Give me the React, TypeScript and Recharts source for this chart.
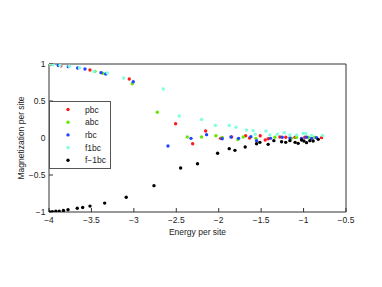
import React from 'react';
import { ScatterChart, Scatter, XAxis, YAxis, Legend, Label } from 'recharts';

const xTicks = [-4, -3.5, -3, -2.5, -2, -1.5, -1, -0.5];
const yTicks = [-1, -0.5, 0, 0.5, 1];
const seriesNames = ['pbc', 'abc', 'rbc', 'f1bc', 'f\u22121bc'];
const seriesColors = ['#ff1a1a', '#66e600', '#2145ff', '#7dffe0', '#000000'];

const pbc = [
  [-3.98, 0.995], [-3.86, 0.975], [-3.517, 0.919], [-3.054, 0.797], [-2.508, 0.193], [-2.307, -0.077],
  [-2.154, 0.095], [-1.978, -0.005], [-1.848, 0.013], [-1.683, 0.031], [-1.636, 0.0],
  [-1.511, 0.03], [-1.452, -0.027], [-1.417, -0.01], [-1.279, 0.013], [-1.21, 0.01],
  [-1.1, 0.01], [-0.985, 0.01], [-0.788, 0.005],
];
const abc = [
  [-3.96, 0.995], [-3.458, 0.901], [-3.368, 0.874], [-3.019, 0.734], [-2.724, 0.347], [-2.371, 0.014],
  [-2.202, 0.014], [-2.033, 0.03], [-1.959, 0.007], [-1.774, -0.02], [-1.711, 0.014],
  [-1.562, -0.005], [-1.338, 0.01], [-1.141, -0.005], [-1.083, 0.01], [-0.946, 0.01], [-0.867, 0.01],
];
const rbc = [
  [-3.89, 0.98], [-3.773, 0.964], [-3.662, 0.946], [-3.576, 0.932], [-3.387, 0.883], [-3.332, 0.865],
  [-3.007, 0.761], [-2.598, -0.108], [-2.327, -0.005], [-2.143, 0.045], [-1.959, -0.01],
  [-1.856, 0.014], [-1.766, -0.005], [-1.621, 0.018], [-1.554, -0.036], [-1.389, -0.005],
  [-1.252, 0.01], [-1.161, 0.0], [-1.024, -0.005], [-0.965, 0.01], [-0.906, -0.005], [-0.847, 0.005],
];
const f1bc = [
  [-3.99, 1.0], [-3.95, 0.99], [-3.87, 0.98], [-3.76, 0.97], [-3.64, 0.95], [-3.47, 0.9],
  [-3.313, 0.88], [-3.12, 0.81], [-2.654, 0.662], [-2.465, 0.297], [-2.202, 0.25], [-2.04, 0.17],
  [-1.876, 0.17], [-1.797, 0.145], [-1.672, 0.108], [-1.594, 0.1], [-1.57, 0.05], [-1.444, 0.095],
  [-1.397, 0.04], [-1.31, 0.05], [-1.228, 0.07], [-1.161, 0.04], [-1.083, 0.04], [-1.005, 0.06],
  [-0.973, 0.06], [-0.906, 0.035], [-0.776, 0.035],
];
const fm1bc = [
  [-3.99, -1.0], [-3.96, -0.995], [-3.92, -0.99], [-3.88, -0.99], [-3.83, -0.98], [-3.776, -0.97],
  [-3.667, -0.95], [-3.603, -0.94], [-3.517, -0.92], [-3.344, -0.88], [-3.09, -0.8], [-2.763, -0.644],
  [-2.449, -0.405], [-2.25, -0.347], [-2.013, -0.207], [-1.876, -0.144], [-1.809, -0.167],
  [-1.688, -0.122], [-1.554, -0.077], [-1.515, -0.059], [-1.417, -0.086], [-1.35, -0.036],
  [-1.259, -0.05], [-1.21, -0.059], [-1.161, -0.036], [-1.1, -0.059], [-1.064, -0.072],
  [-1.024, -0.027], [-0.996, -0.04], [-0.965, -0.063], [-0.926, -0.036], [-0.887, -0.04], [-0.827, -0.018],
];

const allSeries = [pbc, abc, rbc, f1bc, fm1bc];

const FONT = '"Liberation Sans", Arial, sans-serif';
const FS = 8.5;
const AXIS = '#333';

const fmt = (v: number) => (v < 0 ? '\u2212' + Math.abs(v) : String(v));

const LegendBox = () => (
  <svg width={62} height={68} style={{ display: 'block' }}>
    <rect x={0.5} y={0.5} width={61} height={67} fill="#fff" stroke="#555" strokeWidth={1} />
    {seriesNames.map((n, i) => (
      <g key={n}>
        <circle cx={19} cy={8.5 + i * 12.7} r={1.7} fill={seriesColors[i]} />
        <text x={36} y={8.5 + i * 12.7} dominantBaseline="central" fontSize={FS} fontFamily={FONT} fill="#222">
          {n}
        </text>
      </g>
    ))}
  </svg>
);

const EmptyTick = () => <g />;

export default function App() {
  return (
    <ScatterChart width={374} height={271} margin={{ top: 55, right: 35, bottom: 37, left: 0 }}>
      <XAxis
        dataKey="x"
        type="number"
        domain={[-4, -0.5]}
        ticks={xTicks}
        allowDataOverflow
        height={30}
        tickSize={-4}
        tickMargin={9}
        tickFormatter={fmt}
        stroke={AXIS}
        tick={{ fontSize: FS, fontFamily: FONT, fill: '#222' }}
      >
        <Label
          content={({ viewBox }: any) => (
            <text
              x={viewBox.x + viewBox.width / 2}
              y={223.7}
              textAnchor="middle"
              dominantBaseline="central"
              fontSize={FS}
              fontFamily={FONT}
              fill="#222"
            >
              Energy per site
            </text>
          )}
        />
      </XAxis>
      <XAxis
        xAxisId="top"
        orientation="top"
        type="number"
        domain={[-4, -0.5]}
        ticks={xTicks}
        height={1}
        tickSize={-4}
        tick={EmptyTick}
        stroke={AXIS}
      />
      <YAxis
        dataKey="y"
        type="number"
        domain={[-1, 1]}
        ticks={yTicks}
        allowDataOverflow
        width={41}
        tickSize={-4}
        tickMargin={7.5}
        tickFormatter={fmt}
        stroke={AXIS}
        tick={{ fontSize: FS, fontFamily: FONT, fill: '#222' }}
      >
        <Label
          content={() => (
            <text
              x={12.7}
              y={130}
              transform="rotate(-90 12.7 130)"
              textAnchor="middle"
              dominantBaseline="central"
              fontSize={FS}
              fontFamily={FONT}
              fill="#222"
            >
              Magnetization per site
            </text>
          )}
        />
      </YAxis>
      <YAxis
        yAxisId="right"
        orientation="right"
        type="number"
        domain={[-1, 1]}
        ticks={yTicks}
        width={1}
        tickSize={-4}
        tick={EmptyTick}
        stroke={AXIS}
      />
      <Legend
        layout="vertical"
        align="center"
        verticalAlign="middle"
        content={() => <LegendBox />}
        wrapperStyle={{ left: 41, top: 93, width: 62, height: 68 }}
      />
      {allSeries.map((s, i) => (
        <Scatter
          key={seriesNames[i]}
          name={seriesNames[i]}
          data={s.map(([x, y]) => ({ x, y }))}
          isAnimationActive={false}
          shape={(p: any) => <circle cx={p.cx} cy={p.cy} r={1.7} fill={seriesColors[i]} />}
        />
      ))}
    </ScatterChart>
  );
}
